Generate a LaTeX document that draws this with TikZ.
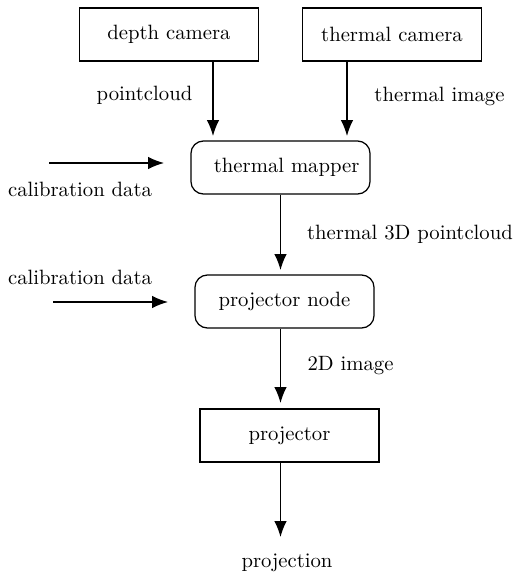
\documentclass[tikz,border=0pt]{standalone}
\usepackage{amsmath}
\usetikzlibrary{arrows.meta,positioning,calc}

\begin{document}
\begin{tikzpicture}[x=0.483pt,y=-0.483pt]

  \tikzstyle{every node}=[font=\normalsize]

  \tikzset{block/.style={draw,semithick,minimum width=86.5pt,minimum height=25.6pt,inner sep=0pt}}
  \tikzset{roundblock/.style={block,rounded corners=6pt}}
  \tikzset{myptr/.style={semithick,-{Latex[length=7.7pt,width=6pt]}}}

  \useasboundingbox (0,0) rectangle (514,576);

  % Sources
  \node[block] (depth camera) at (169,34.5) {depth camera};
  \node[block] (thermal camera) at (392,34.5) {thermal camera};

  % Processing nodes
  \node[roundblock] (thermal mapper) at (280.5,167.5) {\hspace{6pt}thermal mapper};
  \node[roundblock] (projector node) at (284.5,301.5) {projector node};
  \node[block] (projector) at (289.5,435.5) {projector};

  % Camera streams
  \coordinate (depth in) at (213,136);
  \coordinate (thermal in) at (347,136);
  \draw[myptr] (depth camera.south -| depth in) -- (depth in);
  \draw[myptr] (thermal camera.south -| thermal in) -- (thermal in);
  \node (pointcloud) at (144.5,95) {pointcloud};
  \node (thermal image) at (439.5,96) {thermal image};

  % Calibration inputs
  \coordinate (calib A start) at (49,163);
  \coordinate (calib A end) at (164,163);
  \draw[myptr] (calib A start) -- (calib A end);
  \node (calib A) at (80,189) {calibration data};

  \coordinate (calib B start) at (53,302);
  \coordinate (calib B end) at (168,302);
  \draw[myptr] (calib B start) -- (calib B end);
  \node (calib B) at (80,277) {calibration data};

  % Mapper to projector node
  \coordinate (node in) at (280.5,270);
  \draw[myptr] (thermal mapper.south -| node in) -- (node in);
  \node (thermal pc) at (410,234) {thermal 3D pointcloud};

  % Projector node to projector
  \coordinate (projector in) at (280.5,403);
  \draw[myptr] (projector node.south -| projector in) -- (projector in);
  \node (image 2d) at (350.5,366) {2D image};

  % Output
  \coordinate (projection in) at (280.5,537);
  \draw[myptr] (projector.south -| projection in) -- (projection in);
  \node (projection) at (287,563) {projection};

\end{tikzpicture}
\end{document}
